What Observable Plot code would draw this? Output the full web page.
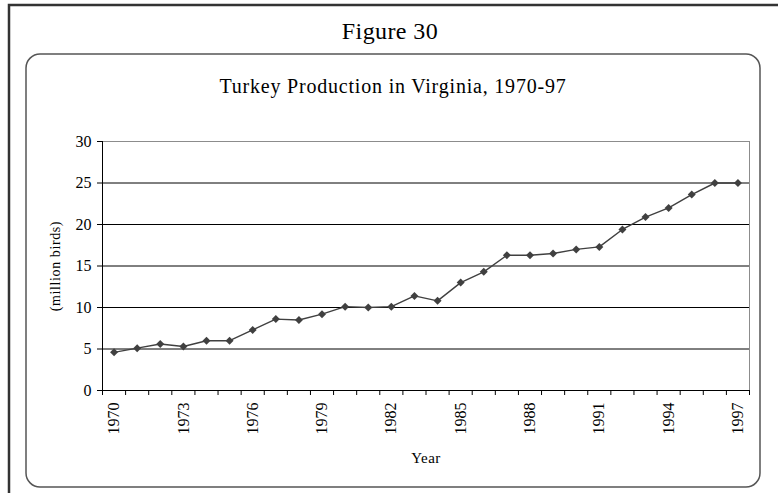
<!DOCTYPE html>
<html>
<head>
<meta charset="utf-8">
<script src="https://cdn.jsdelivr.net/npm/d3@7"></script>
<script src="https://cdn.jsdelivr.net/npm/@observablehq/plot@0.6"></script>
<style>
  html, body { margin: 0; padding: 0; background: #fff; }
  #chart { width: 778px; height: 493px; overflow: hidden; }
</style>
</head>
<body>
<div id="chart"></div>
<script>
const figureLabel = "Figure 30";
const title = "Turkey Production in Virginia, 1970-97";
const yLabel = "(million birds)";
const xLabel = "Year";

const years = [1970,1971,1972,1973,1974,1975,1976,1977,1978,1979,1980,1981,1982,1983,
               1984,1985,1986,1987,1988,1989,1990,1991,1992,1993,1994,1995,1996,1997];
const birds = [4.6,5.1,5.6,5.3,6.0,6.0,7.3,8.6,8.5,9.2,10.1,10.0,10.1,11.4,
               10.8,13.0,14.3,16.3,16.3,16.5,17.0,17.3,19.4,20.9,22.0,23.6,25.0,25.0];
const yTicks = [0,5,10,15,20,25,30];
const yGrid = [5,10,15,20,25];
const xTickLabels = [1970,1973,1976,1979,1982,1985,1988,1991,1994,1997];

const data = years.map((y, i) => ({year: y, value: birds[i]}));
const boundaries = years.map(y => y - 0.5).concat([years[years.length - 1] + 0.5]);

const W = 778, H = 493;
const font = "'Liberation Serif', 'Times New Roman', serif";

const chart = Plot.plot({
  width: W,
  height: H,
  marginLeft: 102,
  marginRight: 29,
  marginTop: 141,
  marginBottom: 103,
  style: {fontFamily: font, fontSize: "16px", background: "transparent", color: "#000", overflow: "visible"},
  x: {domain: [years[0] - 0.5, years[years.length - 1] + 0.5]},
  y: {domain: [0, 30]},
  marks: [
    Plot.ruleY(yGrid, {stroke: "#000", strokeWidth: 1}),
    Plot.frame({stroke: "#8c8c8c", strokeWidth: 1}),
    Plot.ruleY([0], {stroke: "#000", strokeWidth: 1}),
    Plot.ruleX([years[0] - 0.5], {stroke: "#000", strokeWidth: 1}),
    Plot.axisY({ticks: yTicks, tickSize: 5, tickPadding: 6, fontSize: 16, label: null, tickFormat: d => String(d), stroke: "#000"}),
    Plot.axisX({ticks: boundaries, tickSize: 5, tickFormat: () => "", label: null, stroke: "#000"}),
    Plot.axisX({ticks: xTickLabels, tickSize: 0, tickPadding: 12, tickRotate: -90, fontSize: 16, tickFormat: d => String(d), label: null}),
    Plot.line(data, {x: "year", y: "value", stroke: "#404040", strokeWidth: 1.4}),
    Plot.dot(data, {x: "year", y: "value", symbol: "diamond2", r: 3.6, fill: "#404040", stroke: "none"})
  ]
});

const svg = d3.select(chart);
svg.selectAll("text").attr("font-family", font);
svg.selectAll("[aria-label='y-axis tick label'] text, [aria-label='y-axis tick label']").attr("font-size", 16);
svg.selectAll("[aria-label='x-axis tick label'] text, [aria-label='x-axis tick label']").attr("font-size", 16);

// decorative boxes (behind)
const deco = svg.insert("g", ":first-child");
deco.append("rect").attr("x", 9).attr("y", 5).attr("width", 800).attr("height", 520)
  .attr("fill", "none").attr("stroke", "#333").attr("stroke-width", 2.5);
deco.append("rect").attr("x", 26).attr("y", 54).attr("width", 734).attr("height", 433)
  .attr("rx", 14).attr("ry", 14)
  .attr("fill", "none").attr("stroke", "#555").attr("stroke-width", 1.5);

const txt = svg.append("g").attr("font-family", font).attr("fill", "#000");
txt.append("text").attr("x", 390).attr("y", 39).attr("text-anchor", "middle")
  .attr("font-size", 24).attr("letter-spacing", 0.4).text(figureLabel);
txt.append("text").attr("x", 393).attr("y", 93).attr("text-anchor", "middle")
  .attr("font-size", 20).attr("letter-spacing", 0.8).text(title);
txt.append("text").attr("transform", "translate(60,266) rotate(-90)").attr("text-anchor", "middle")
  .attr("font-size", 14).attr("letter-spacing", 0.6).text(yLabel);
txt.append("text").attr("x", 426).attr("y", 463).attr("text-anchor", "middle")
  .attr("font-size", 15).attr("letter-spacing", 0.5).text(xLabel);

document.getElementById("chart").appendChild(chart);
</script>
</body>
</html>
